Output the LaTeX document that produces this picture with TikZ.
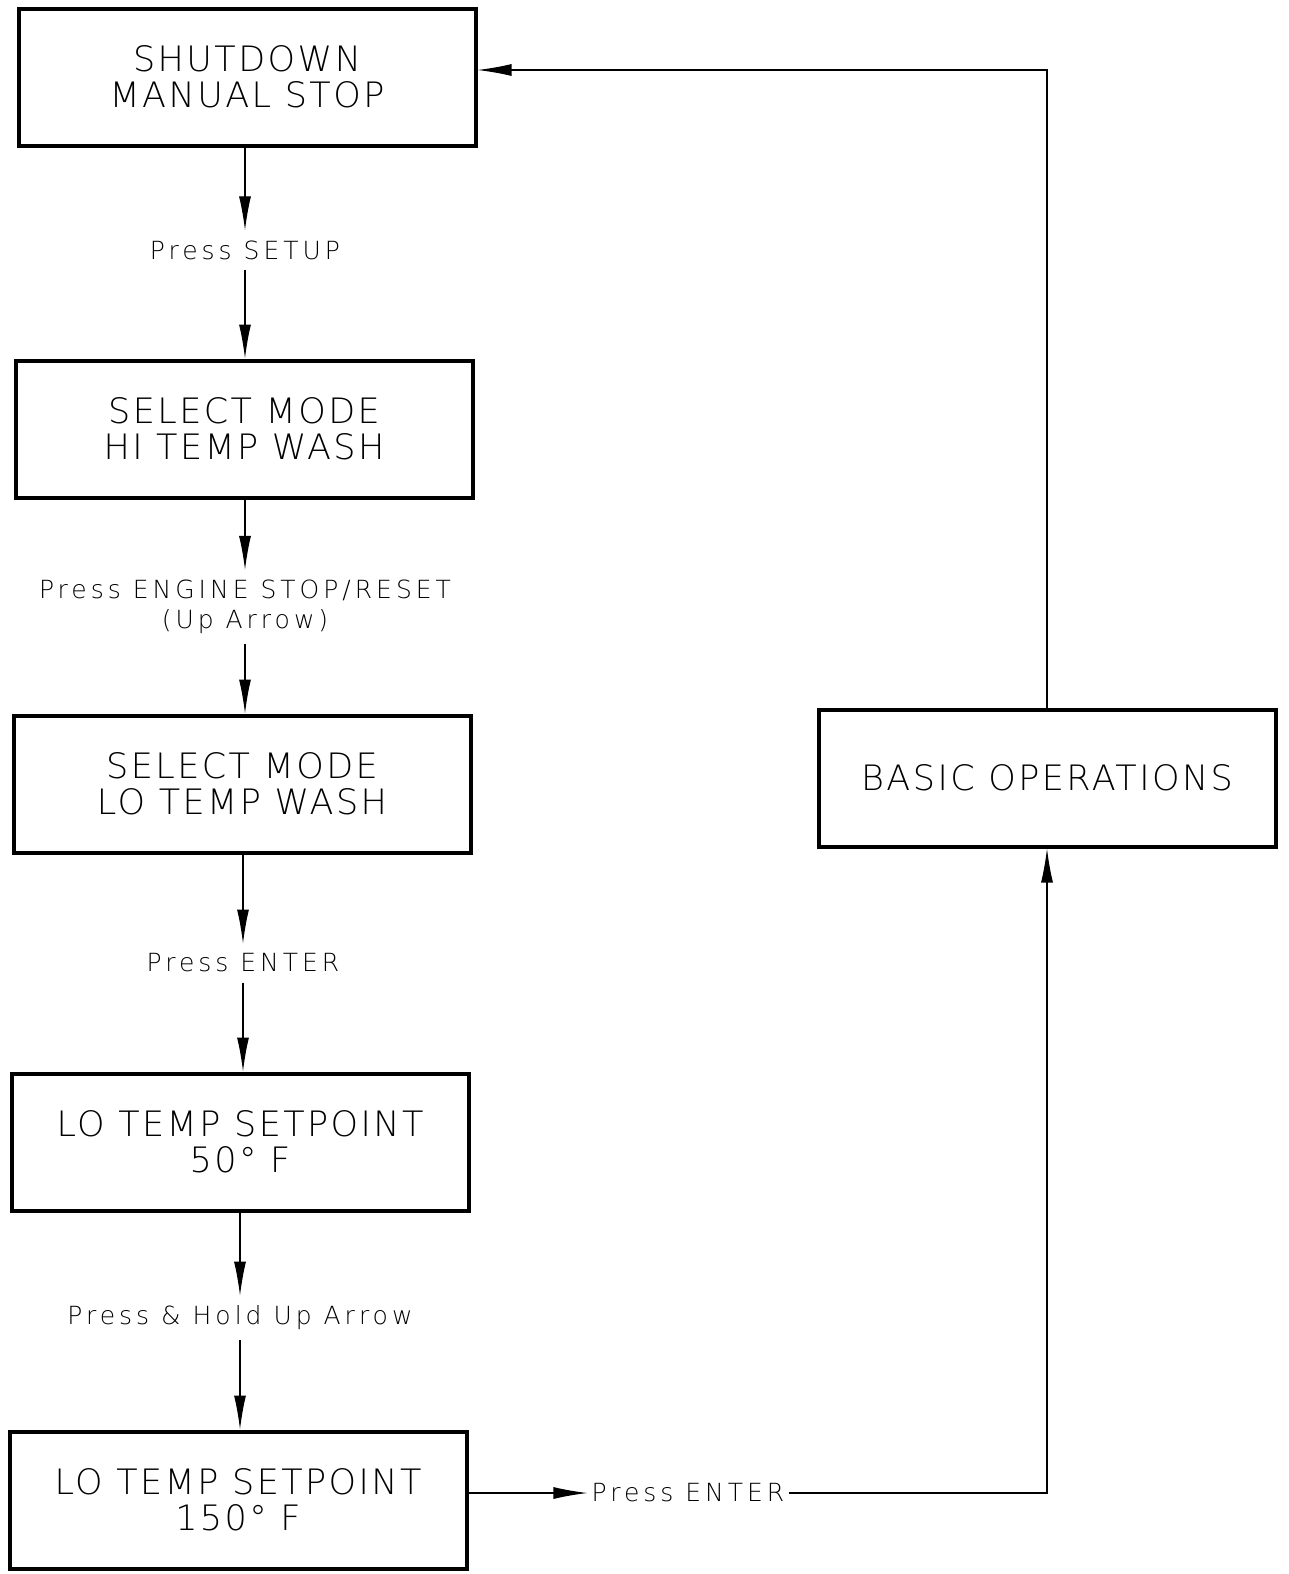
\documentclass[tikz,border=0pt]{standalone}
\usepackage{fontspec}
\setmainfont{DejaVu Sans ExtraLight}[LetterSpace=7]
\newfontfamily\lblfont{DejaVu Sans ExtraLight}[LetterSpace=16]
\usetikzlibrary{arrows.meta}
\begin{document}
\begin{tikzpicture}[x=1pt,y=-1pt,
  box/.style={draw,line width=4pt,minimum width=457pt,minimum height=137pt,align=center,
    font=\fontsize{35}{36}\selectfont},
  lbl/.style={align=center,inner sep=10pt,font=\lblfont\fontsize{25}{30}\selectfont},
  conn/.style={line width=1.2pt,-{Latex[length=34pt,width=12pt]}}]
\useasboundingbox (0,0) rectangle (1289,1574);
\node[box] (b1) at (247,77) {SHUTDOWN\\MANUAL STOP};
\node[box] (b2) at (244,429) {SELECT MODE\\HI TEMP WASH};
\node[box] (b3) at (242,784) {SELECT MODE\\LO TEMP WASH};
\node[box] (b4) at (240,1142) {LO TEMP SETPOINT\\50° F};
\node[box] (b5) at (238,1500) {LO TEMP SETPOINT\\150° F};
\node[box] (b6) at (1047,778) {BASIC OPERATIONS};
\node[lbl] (l1) at (245,250) {Press SETUP};
\node[lbl] (l2) at (245,607) {Press ENGINE STOP/RESET\\(Up Arrow)};
\node[lbl] (l3) at (243,963) {Press ENTER};
\node[lbl] (l4) at (240,1318) {Press \& Hold Up Arrow};
\node[lbl,inner sep=4pt] (l5) at (688,1493) {Press ENTER};
\draw[conn] (l1.north |- b1.south) -- (l1.north);
\draw[conn] (l1.south) -- (l1.south |- b2.north);
\draw[conn] (l2.north |- b2.south) -- (l2.north);
\draw[conn] (l2.south) -- (l2.south |- b3.north);
\draw[conn] (l3.north |- b3.south) -- (l3.north);
\draw[conn] (l3.south) -- (l3.south |- b4.north);
\draw[conn] (l4.north |- b4.south) -- (l4.north);
\draw[conn] (l4.south) -- (l4.south |- b5.north);
\draw[conn] (b5.east |- l5.west) -- (l5.west);
\draw[conn] (l5.east) -| (b6.south);
\draw[conn] (b6.north) |- ([yshift=7pt]b1.east);
\end{tikzpicture}
\end{document}
